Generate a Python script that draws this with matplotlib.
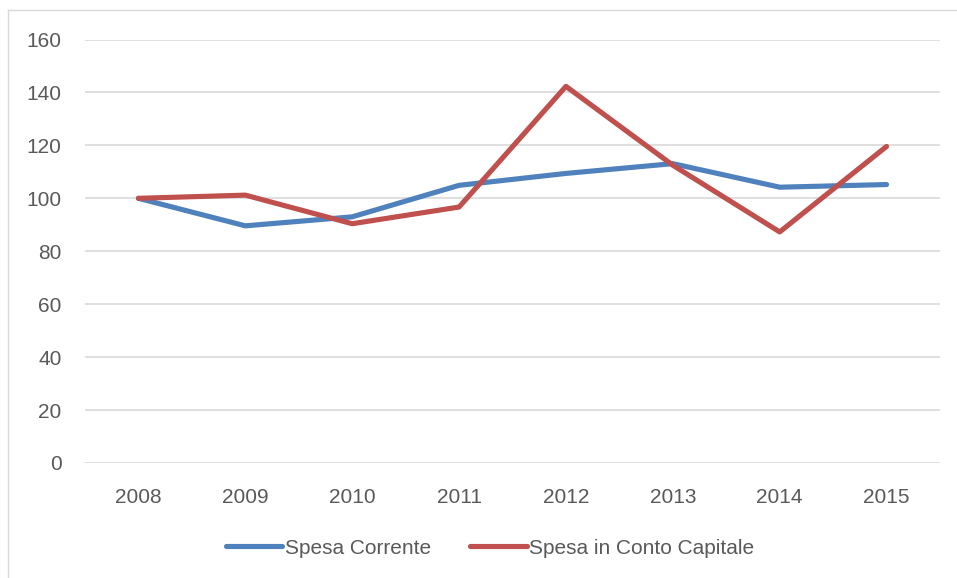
import matplotlib
matplotlib.use("Agg")
import matplotlib.pyplot as plt
from matplotlib.lines import Line2D

years = ["2008", "2009", "2010", "2011", "2012", "2013", "2014", "2015"]
spesa_corrente = [100, 89.6, 93.0, 104.9, 109.4, 113.1, 104.2, 105.2]
spesa_capitale = [100, 101.2, 90.4, 96.7, 142.3, 112.5, 87.3, 119.6]
y_ticks = [0, 20, 40, 60, 80, 100, 120, 140, 160]

plt.rcParams["font.family"] = ["Liberation Sans", "DejaVu Sans"]

fig = plt.figure(figsize=(9.57, 5.78), dpi=100)
ax = fig.add_axes([85 / 957, 1 - 463 / 578, (940 - 85) / 957, (463 - 39.5) / 578])

x = range(len(years))
ax.plot(x, spesa_corrente, color="#4F81BD", lw=3.7, solid_joinstyle="round",
        solid_capstyle="round", label="Spesa Corrente", zorder=3)
ax.plot(x, spesa_capitale, color="#C0504D", lw=3.7, solid_joinstyle="round",
        solid_capstyle="round", label="Spesa in Conto Capitale", zorder=3)

ax.set_xlim(-0.5, len(years) - 0.5)
ax.set_ylim(0, 160)
ax.set_yticks(y_ticks)
ax.set_xticks(list(x))
ax.set_xticklabels(years)
ax.grid(axis="y", color="#D9D9D9", lw=1.2)
ax.set_axisbelow(True)
for s in ax.spines.values():
    s.set_visible(False)
ax.tick_params(length=0, labelsize=15, colors="#595959")
ax.tick_params(axis="y", pad=17)
ax.tick_params(axis="x", pad=18)

# outer chart border (left and top edges visible)
fig.add_artist(Line2D([8 / 957, 8 / 957], [0, 1 - 10 / 578], color="#D9D9D9", lw=1))
fig.add_artist(Line2D([8 / 957, 1], [1 - 10 / 578, 1 - 10 / 578], color="#D9D9D9", lw=1))

leg = fig.legend(loc="center", bbox_to_anchor=(490 / 957, 1 - 548 / 578), ncol=2,
                 frameon=False, fontsize=15, handlelength=2.7, handletextpad=0.1,
                 columnspacing=1.9)
for t in leg.get_texts():
    t.set_color("#595959")

fig.savefig("out.png", dpi=100, facecolor="white")
